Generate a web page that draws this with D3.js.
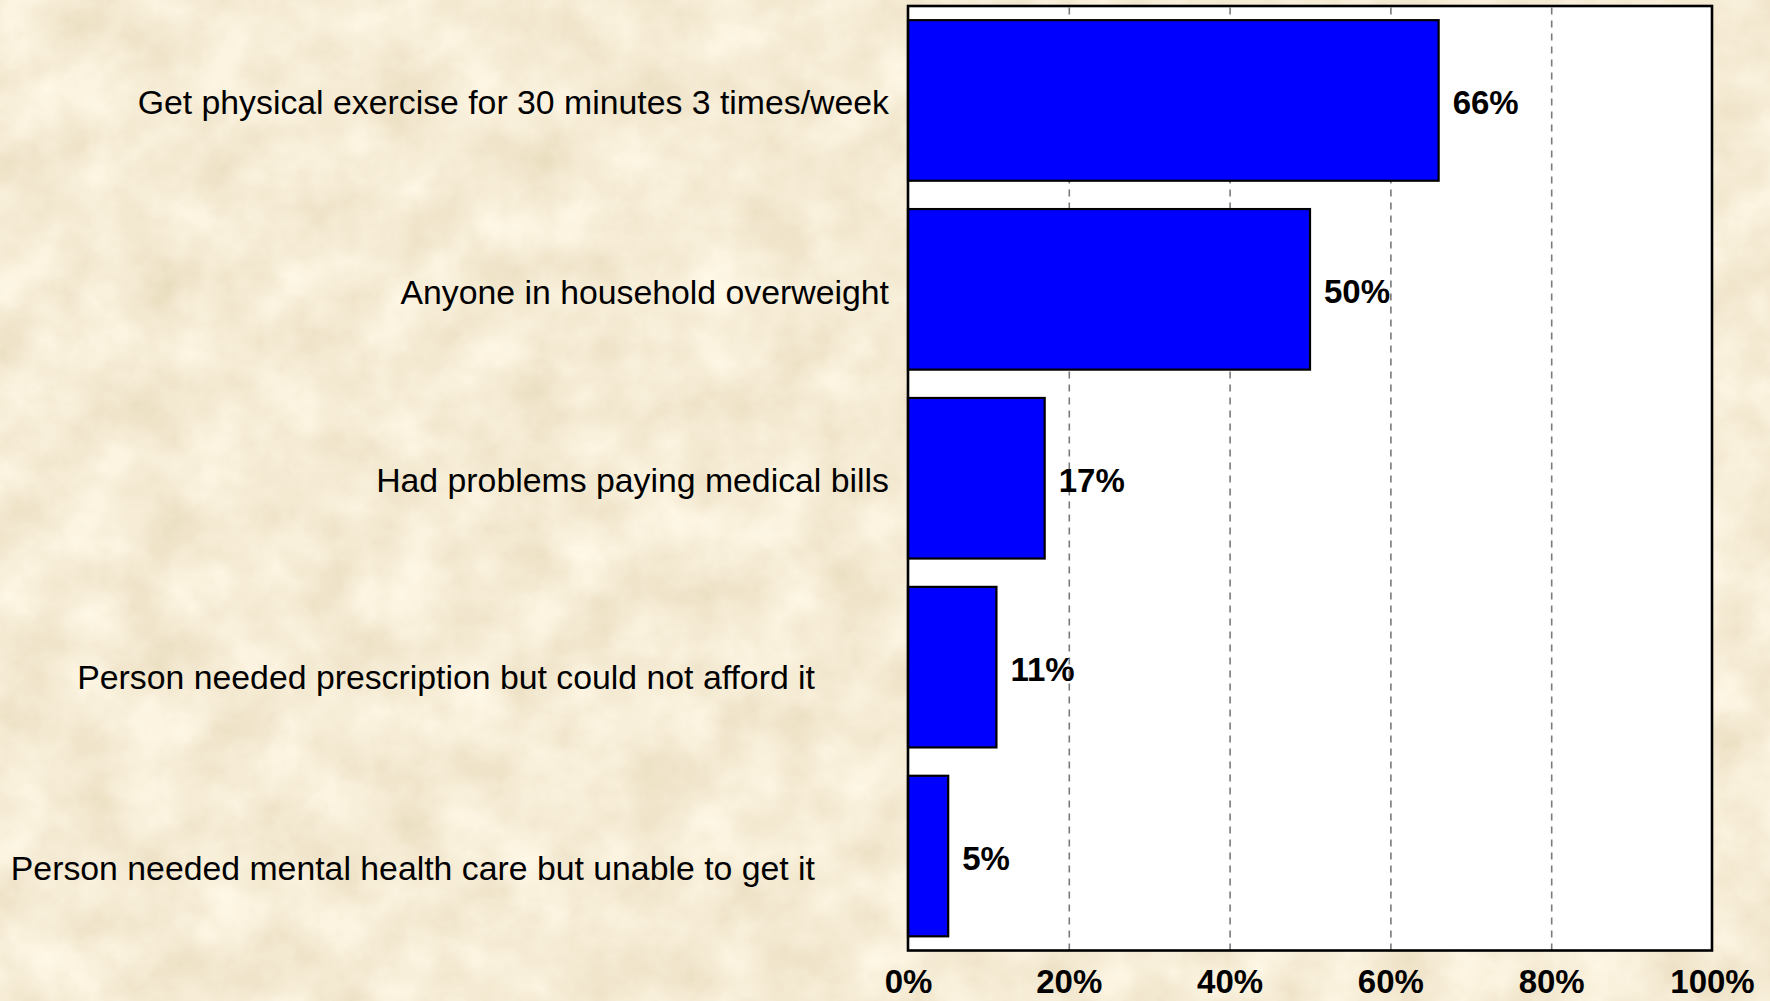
<!DOCTYPE html>
<html>
<head>
<meta charset="utf-8">
<script src="https://cdn.jsdelivr.net/npm/d3@7"></script>
<style>
  html, body { margin: 0; padding: 0; overflow: hidden; background: #E8D6AA; }
  svg { display: block; }
</style>
</head>
<body>
<svg id="chart" width="1770" height="1001"></svg>
<script>
// ---- data ----
const categories = [
  "Get physical exercise for 30 minutes 3 times/week",
  "Anyone in household overweight",
  "Had problems paying medical bills",
  "Person needed prescription but could not afford it",
  "Person needed mental health care but unable to get it"
];
const values = [66, 50, 17, 11, 5];
const tickValues = [0, 20, 40, 60, 80, 100];
const tickLabels = ["0%", "20%", "40%", "60%", "80%", "100%"];

// ---- layout (not data) ----
const W = 1770, H = 1001;
const plot = { left: 908, right: 1712, top: 6, bottom: 950.5 };
const labelShiftX = [0, 0, 0, -74, -74];
const labelShiftY = [1, 2, 2, 10, 12];

const svg = d3.select("#chart");

// parchment background texture
const defs = svg.append("defs");
const f = defs.append("filter").attr("id", "parch")
  .attr("x", 0).attr("y", 0).attr("width", "100%").attr("height", "100%");
f.append("feTurbulence").attr("type", "fractalNoise")
  .attr("baseFrequency", "0.016").attr("numOctaves", 6).attr("seed", 11).attr("result", "n");
f.append("feColorMatrix").attr("in", "n").attr("type", "matrix")
  .attr("values",
    "0.22 0 0 0 0.81  " +
    "0.26 0 0 0 0.71  " +
    "0.34 0 0 0 0.50  " +
    "0 0 0 0 1");
svg.append("rect").attr("width", W).attr("height", H).attr("fill", "#E8D6AA");
svg.append("rect").attr("width", W).attr("height", H).attr("filter", "url(#parch)");

const x = d3.scaleLinear().domain([0, 100]).range([plot.left, plot.right]);
const y = d3.scaleBand().domain(categories).range([plot.top, plot.bottom])
  .paddingInner(0.15).paddingOuter(0.075);

// plot background
svg.append("rect")
  .attr("x", plot.left).attr("y", plot.top)
  .attr("width", plot.right - plot.left).attr("height", plot.bottom - plot.top)
  .attr("fill", "#ffffff");

// gridlines
const grid = svg.append("g")
  .attr("transform", `translate(0,${plot.bottom})`)
  .call(d3.axisBottom(x).tickValues(tickValues.slice(1, -1))
    .tickSize(-(plot.bottom - plot.top)).tickFormat(""));
grid.select(".domain").remove();
grid.selectAll("line")
  .attr("stroke", "#7a7a7a").attr("stroke-width", 1.6)
  .attr("stroke-dasharray", "7,6");

// bars
svg.append("g").selectAll("rect")
  .data(values)
  .join("rect")
  .attr("x", x(0))
  .attr("y", (d, i) => y(categories[i]))
  .attr("width", d => x(d) - x(0))
  .attr("height", y.bandwidth())
  .attr("fill", "#0000FF")
  .attr("stroke", "#000")
  .attr("stroke-width", 2.2);

// plot border
svg.append("rect")
  .attr("x", plot.left).attr("y", plot.top)
  .attr("width", plot.right - plot.left).attr("height", plot.bottom - plot.top)
  .attr("fill", "none").attr("stroke", "#000").attr("stroke-width", 2.6);

// value labels
svg.append("g").selectAll("text")
  .data(values)
  .join("text")
  .attr("x", d => x(d) + 14)
  .attr("y", (d, i) => y(categories[i]) + y.bandwidth() / 2)
  .attr("dy", "0.42em")
  .attr("font-family", "Liberation Sans, Arial, sans-serif")
  .attr("font-weight", "bold")
  .attr("font-size", 33)
  .attr("fill", "#000")
  .text(d => d + "%");

// category labels
svg.append("g").selectAll("text")
  .data(categories)
  .join("text")
  .attr("x", (d, i) => plot.left - 19 + labelShiftX[i])
  .attr("y", (d, i) => y(d) + y.bandwidth() / 2 + labelShiftY[i])
  .attr("dy", "0.36em")
  .attr("text-anchor", "end")
  .attr("font-family", "Liberation Sans, Arial, sans-serif")
  .attr("font-size", 33.8)
  .attr("fill", "#000")
  .text(d => d);

// x axis tick labels
const xa = svg.append("g")
  .attr("transform", `translate(0,${plot.bottom})`)
  .call(d3.axisBottom(x).tickValues(tickValues).tickSize(0).tickPadding(19)
    .tickFormat((d, i) => tickLabels[i]));
xa.select(".domain").remove();
xa.selectAll("text")
  .attr("font-family", "Liberation Sans, Arial, sans-serif")
  .attr("font-weight", "bold")
  .attr("font-size", 33)
  .attr("fill", "#000");
</script>
</body>
</html>
